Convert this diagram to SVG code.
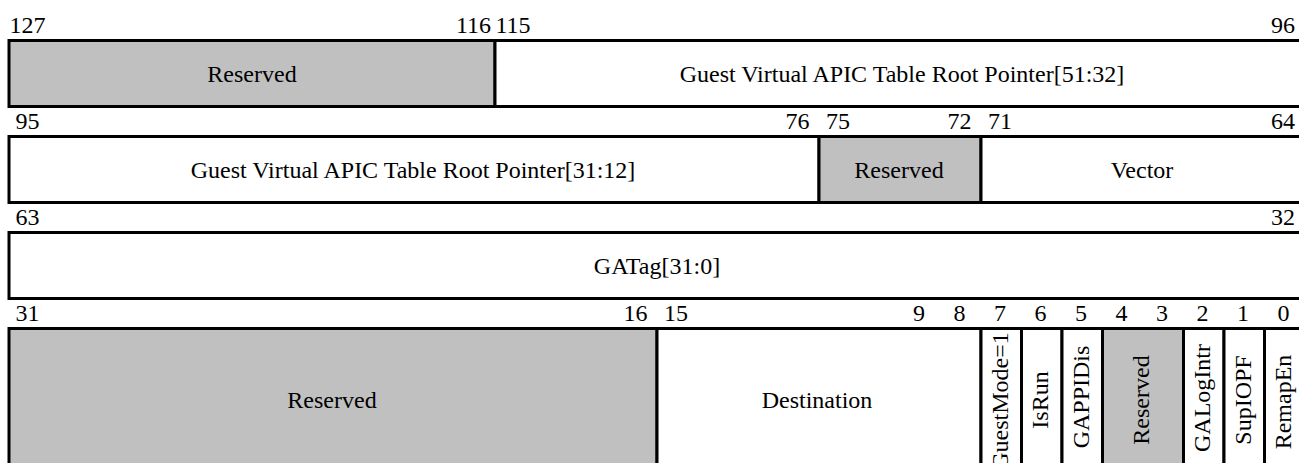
<svg xmlns="http://www.w3.org/2000/svg" width="1299" height="463" viewBox="0 0 1299 463" font-family="'Liberation Serif', 'Times New Roman', Times, 'DejaVu Serif', serif">
<style>
  .f { fill: #ffffff; stroke: #000000; stroke-width: 3; }
  .r { fill: #c0c0c0; stroke: #000000; stroke-width: 3; }
  text { font-family: 'Liberation Serif', 'Times New Roman', Times, 'DejaVu Serif', serif; font-size: 24px; fill: #000000; text-anchor: middle; }
</style>
<rect width="1299" height="463" fill="#ffffff"/>

<!-- Row 1: bits 127..96 -->
<g id="row1-labels">
  <text x="27.5" y="32.5">127</text>
  <text x="473.5" y="32.5">116</text>
  <text x="513" y="32.5">115</text>
  <text x="1283" y="32.5">96</text>
</g>
<g id="f127-116">
  <rect class="r" x="9" y="40.5" width="486" height="66"/>
  <text x="252" y="81.5">Reserved</text>
</g>
<g id="f115-96">
  <rect class="f" x="495" y="40.5" width="810" height="66"/>
  <text x="902" y="81.5">Guest Virtual APIC Table Root Pointer[51:32]</text>
</g>

<!-- Row 2: bits 95..64 -->
<g id="row2-labels">
  <text x="27.5" y="128.5">95</text>
  <text x="797.5" y="128.5">76</text>
  <text x="838" y="128.5">75</text>
  <text x="959.5" y="128.5">72</text>
  <text x="1000" y="128.5">71</text>
  <text x="1283" y="128.5">64</text>
</g>
<g id="f95-76">
  <rect class="f" x="9" y="136.5" width="810" height="66"/>
  <text x="413" y="177.5">Guest Virtual APIC Table Root Pointer[31:12]</text>
</g>
<g id="f75-72">
  <rect class="r" x="819" y="136.5" width="162" height="66"/>
  <text x="899" y="177.5">Reserved</text>
</g>
<g id="f71-64">
  <rect class="f" x="981" y="136.5" width="324" height="66"/>
  <text x="1142" y="177.5">Vector</text>
</g>

<!-- Row 3: bits 63..32 -->
<g id="row3-labels">
  <text x="27.5" y="224.5">63</text>
  <text x="1283" y="224.5">32</text>
</g>
<g id="f63-32">
  <rect class="f" x="9" y="232.5" width="1296" height="66"/>
  <text x="657" y="273.5">GATag[31:0]</text>
</g>

<!-- Row 4: bits 31..0 -->
<g id="row4-labels">
  <text x="27.5" y="320.5">31</text>
  <text x="635.5" y="320.5">16</text>
  <text x="676" y="320.5">15</text>
  <text x="919" y="320.5">9</text>
  <text x="959.5" y="320.5">8</text>
  <text x="1000" y="320.5">7</text>
  <text x="1040.5" y="320.5">6</text>
  <text x="1081" y="320.5">5</text>
  <text x="1121.5" y="320.5">4</text>
  <text x="1162" y="320.5">3</text>
  <text x="1202.5" y="320.5">2</text>
  <text x="1243" y="320.5">1</text>
  <text x="1283.5" y="320.5">0</text>
</g>
<g id="f31-16">
  <rect class="r" x="9" y="328.5" width="648" height="143"/>
  <text x="332" y="408">Reserved</text>
</g>
<g id="f15-8">
  <rect class="f" x="657" y="328.5" width="324" height="143"/>
  <text x="817" y="408">Destination</text>
</g>
<g id="f7">
  <rect class="f" x="981" y="328.5" width="40.5" height="143"/>
  <text transform="translate(999.5,401) rotate(-90)" x="0" y="8">GuestMode=1</text>
</g>
<g id="f6">
  <rect class="f" x="1021.5" y="328.5" width="40.5" height="143"/>
  <text transform="translate(1040,400) rotate(-90)" x="0" y="8">IsRun</text>
</g>
<g id="f5">
  <rect class="f" x="1062" y="328.5" width="40.5" height="143"/>
  <text transform="translate(1080.5,397) rotate(-90)" x="0" y="8">GAPPIDis</text>
</g>
<g id="f4-3">
  <rect class="r" x="1102.5" y="328.5" width="81" height="143"/>
  <text transform="translate(1141,400) rotate(-90)" x="0" y="8">Reserved</text>
</g>
<g id="f2">
  <rect class="f" x="1183.5" y="328.5" width="40.5" height="143"/>
  <text transform="translate(1202,398) rotate(-90)" x="0" y="8">GALogIntr</text>
</g>
<g id="f1">
  <rect class="f" x="1224" y="328.5" width="40.5" height="143"/>
  <text transform="translate(1242.5,400) rotate(-90)" x="0" y="8">SupIOPF</text>
</g>
<g id="f0">
  <rect class="f" x="1264.5" y="328.5" width="40.5" height="143"/>
  <text transform="translate(1283,402) rotate(-90)" x="0" y="8">RemapEn</text>
</g>
<g id="connectors"></g>
</svg>
